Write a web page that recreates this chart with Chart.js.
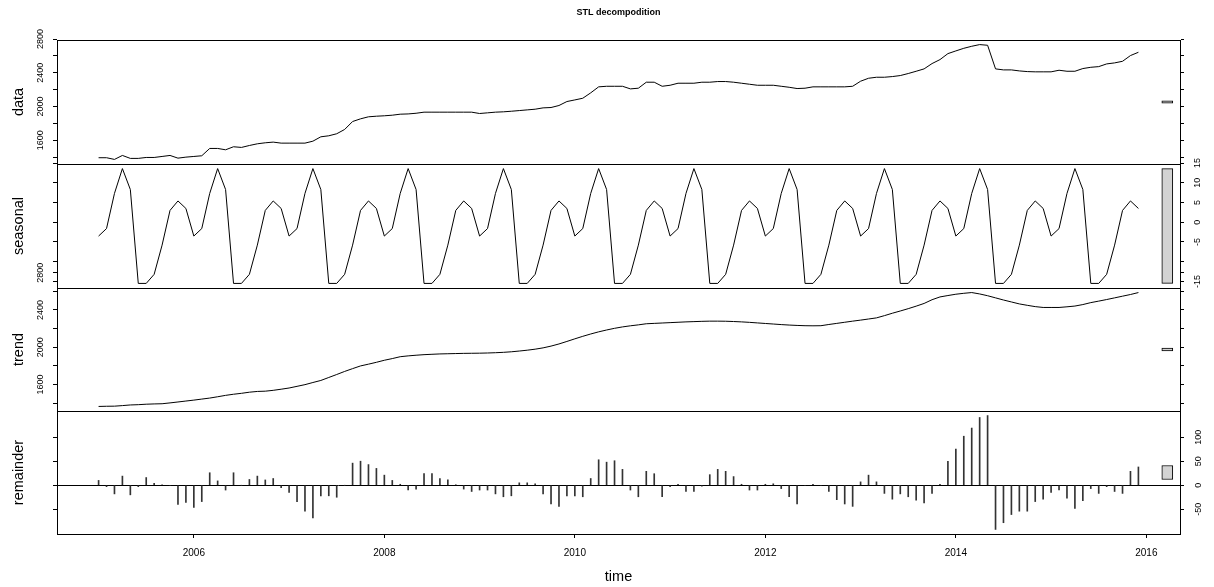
<!DOCTYPE html>
<html>
<head>
<meta charset="utf-8">
<title>STL decompodition</title>
<script src="https://cdn.jsdelivr.net/npm/chart.js@4.4.1/dist/chart.umd.min.js"></script>
<style>
  html, body { margin: 0; padding: 0; background: #fff; }
  #wrap { position: relative; width: 1214px; height: 587px; }
  #wrap canvas { position: absolute; left: 0; top: 0; }
</style>
</head>
<body>
<div id="wrap">
  <canvas id="panelData" width="1214" height="587"></canvas>
  <canvas id="panelSeasonal" width="1214" height="587"></canvas>
  <canvas id="panelTrend" width="1214" height="587"></canvas>
  <canvas id="panelRemainder" width="1214" height="587"></canvas>
</div>
<script>
// monthly series, Jan 2005 .. Dec 2015
const startYear = 2005
const freq = 12

const dataValues = [
  1393, 1393, 1373, 1420, 1385, 1385, 1396, 1396, 1408, 1420, 1388, 1400,
  1408, 1416, 1503, 1503, 1487, 1523, 1515, 1538, 1558, 1570, 1578, 1566,
  1566, 1566, 1566, 1589, 1641, 1653, 1677, 1728, 1822, 1854, 1878, 1885,
  1890, 1897, 1909, 1912, 1920, 1933, 1933, 1933, 1933, 1933, 1933, 1933,
  1917, 1925, 1933, 1937, 1944, 1952, 1960, 1968, 1984, 1988, 2012, 2059,
  2078, 2098, 2162, 2233, 2240, 2240, 2240, 2209, 2217, 2288, 2288, 2240,
  2252, 2276, 2276, 2276, 2288, 2288, 2296, 2296, 2288, 2276, 2264, 2252,
  2252, 2252, 2240, 2228, 2213, 2217, 2233, 2233, 2233, 2233, 2233, 2240,
  2300, 2335, 2347, 2347, 2355, 2367, 2391, 2418, 2446, 2509, 2556, 2627,
  2659, 2690, 2714, 2734, 2726, 2446, 2434, 2434, 2422, 2414, 2411, 2411,
  2411, 2430, 2418, 2418, 2450, 2465, 2473, 2505, 2517, 2536, 2604, 2643
]

const seasonalValues = [
  -3.5, -1.6, 7.3, 13.6, 8.3, -15.5, -15.5, -13.2, -5.8, 3.0, 5.4, 3.5,
  -3.5, -1.6, 7.3, 13.6, 8.3, -15.5, -15.5, -13.2, -5.8, 3.0, 5.4, 3.5,
  -3.5, -1.6, 7.3, 13.6, 8.3, -15.5, -15.5, -13.2, -5.8, 3.0, 5.4, 3.5,
  -3.5, -1.6, 7.3, 13.6, 8.3, -15.5, -15.5, -13.2, -5.8, 3.0, 5.4, 3.5,
  -3.5, -1.6, 7.3, 13.6, 8.3, -15.5, -15.5, -13.2, -5.8, 3.0, 5.4, 3.5,
  -3.5, -1.6, 7.3, 13.6, 8.3, -15.5, -15.5, -13.2, -5.8, 3.0, 5.4, 3.5,
  -3.5, -1.6, 7.3, 13.6, 8.3, -15.5, -15.5, -13.2, -5.8, 3.0, 5.4, 3.5,
  -3.5, -1.6, 7.3, 13.6, 8.3, -15.5, -15.5, -13.2, -5.8, 3.0, 5.4, 3.5,
  -3.5, -1.6, 7.3, 13.6, 8.3, -15.5, -15.5, -13.2, -5.8, 3.0, 5.4, 3.5,
  -3.5, -1.6, 7.3, 13.6, 8.3, -15.5, -15.5, -13.2, -5.8, 3.0, 5.4, 3.5,
  -3.5, -1.6, 7.3, 13.6, 8.3, -15.5, -15.5, -13.2, -5.8, 3.0, 5.4, 3.5
]

const trendValues = [
  1364, 1366, 1367, 1373, 1380, 1383, 1388, 1391, 1393, 1402, 1412, 1422,
  1432, 1443, 1454, 1468, 1483, 1495, 1505, 1517, 1525, 1528, 1537, 1549,
  1562, 1580, 1598, 1621, 1643, 1675, 1707, 1740, 1770, 1799, 1818, 1838,
  1860, 1878, 1898, 1907, 1914, 1920, 1924, 1928, 1930, 1932, 1934, 1935,
  1936, 1938, 1941, 1945, 1951, 1959, 1968, 1979, 1993, 2012, 2035, 2062,
  2090, 2117, 2142, 2165, 2185, 2203, 2218, 2230, 2240, 2252, 2256, 2260,
  2264, 2268, 2272, 2275, 2278, 2280, 2280, 2279, 2276, 2272, 2267, 2261,
  2255, 2249, 2243, 2238, 2234, 2231, 2230, 2231, 2244, 2256, 2268, 2280,
  2291, 2303, 2315, 2339, 2365, 2389, 2414, 2441, 2470, 2510, 2540, 2555,
  2569, 2579, 2587, 2572, 2553, 2530, 2507, 2486, 2465, 2450, 2436, 2427,
  2427, 2427, 2434, 2442, 2458, 2479, 2495, 2512, 2530, 2548, 2566, 2587
]

const remainderValues = [
  10, -3, -18, 19, -20, -3, 16, 4, 1, -1, -40, -36,
  -46, -34, 26, 9, -10, 26, 0, 12, 19, 11, 14, -5,
  -15, -34, -54, -68, -22, -22, -25, 0, 46, 50, 43, 35,
  21, 10, 2, -10, -8, 24, 24, 14, 11, 1, -8, -13,
  -10, -10, -18, -24, -22, 5, 5, 3, -18, -39, -44, -22,
  -22, -24, 14, 53, 48, 51, 33, -10, -24, 29, 24, -24,
  -3, 2, -13, -13, -2, 22, 33, 29, 18, 2, -10, -10,
  2, 3, -7, -24, -39, -1, 2, 0, -13, -30, -39, -44,
  7, 21, 7, -17, -29, -18, -24, -31, -37, -17, 2, 50,
  75, 102, 119, 141, 145, -92, -78, -61, -54, -54, -34, -29,
  -15, -10, -27, -48, -32, -7, -17, -3, -13, -17, 29, 38
]

const yearTicks = [2006, 2008, 2010, 2012, 2014, 2016]
const dataTicks = [1400, 1600, 1800, 2000, 2200, 2400, 2600, 2800]
const dataTickLabels = [1600, 2000, 2400, 2800]
const seasonalTicks = [-15, -10, -5, 0, 5, 10, 15]
const seasonalTickLabels = [-15, -5, 0, 5, 10, 15]
const trendTicks = [1400, 1600, 1800, 2000, 2200, 2400, 2600, 2800]
const trendTickLabels = [1600, 2000, 2400, 2800]
const remainderTicks = [-50, 0, 50, 100]
const remainderTickLabels = [-50, 0, 50, 100]

// page layout
const W = 1214, H = 587
const plotLeft = 57, plotRight = 1180
const titleHeight = 18.4
const rangeBarX = 2016.22
const FONT = "'Liberation Sans', Arial, sans-serif"

const times = dataValues.map((_, i) => startYear + i / freq)

// R style axis range: data range plus 4% on each side
function paddedRange(values) {
  const lo = Math.min(...values), hi = Math.max(...values)
  const pad = (hi - lo) * 0.04
  return { min: lo - pad, max: hi + pad }
}
const xRange = paddedRange(times)

// range bars all share the height of the smallest component range
const spread = v => Math.max(...v) - Math.min(...v)
const barSize = Math.min(spread(dataValues), spread(seasonalValues), spread(trendValues), spread(remainderValues))
function rangeBar(values) {
  const mid = (Math.max(...values) + Math.min(...values)) / 2
  return [{ x: rangeBarX, y: [mid - barSize / 2, mid + barSize / 2] }]
}

function yAxis(cfg, yr, side) {
  const withLabels = cfg.labelSide === side
  const axis = {
    type: 'linear',
    position: side,
    min: yr.min,
    max: yr.max,
    beginAtZero: false,
    afterBuildTicks: s => { s.ticks = cfg.ticks.map(v => ({ value: v })) },
    afterFit: s => { s.width = side === 'left' ? plotLeft : W - plotRight },
    ticks: {
      display: withLabels,
      autoSkip: false,
      minRotation: 90,
      maxRotation: 90,
      crossAlign: 'center',
      padding: side === 'left' ? 2 : 7,
      color: '#000',
      font: { family: FONT, size: 9 },
      callback: v => cfg.labels.includes(v) ? String(v) : ''
    },
    grid: { drawOnChartArea: false, tickLength: 4, tickColor: '#000', lineWidth: 1 },
    border: { display: true, color: '#000', width: 1 },
    title: { display: false }
  }
  if (side === 'left') {
    axis.title = {
      display: true,
      text: cfg.name,
      color: '#000',
      font: { family: FONT, size: 14.5 },
      padding: { top: 10, bottom: 0 }
    }
    // remainder panel gets its zero line
    if (cfg.bars) {
      axis.grid.drawOnChartArea = true
      axis.grid.color = c => c.tick && c.tick.value === 0 ? '#000' : 'rgba(0,0,0,0)'
    }
  }
  return axis
}

function buildPanel(cfg) {
  const yr = paddedRange(cfg.values)
  const points = cfg.values.map((v, i) => ({ x: times[i], y: v }))

  const series = cfg.bars
    ? { type: 'bar', data: points, backgroundColor: '#333', barThickness: 1, grouped: false }
    : { type: 'line', data: points, borderColor: '#000', borderWidth: 1, pointRadius: 0, tension: 0, fill: false }

  const bar = {
    type: 'bar',
    data: rangeBar(cfg.values),
    backgroundColor: '#d3d3d3',
    borderColor: '#000',
    borderWidth: 1,
    borderSkipped: false,
    barThickness: 11,
    grouped: false
  }

  const ctx = document.getElementById(cfg.id).getContext('2d')
  return new Chart(ctx, {
    type: 'line',
    data: { datasets: [series, bar] },
    options: {
      responsive: false,
      animation: false,
      devicePixelRatio: 1,
      events: [],
      layout: { padding: 0 },
      plugins: {
        legend: { display: false },
        tooltip: { enabled: false },
        title: {
          display: !!cfg.title,
          text: 'STL decompodition',
          fullSize: false,
          color: '#000',
          font: { family: FONT, size: 9, weight: 'bold' },
          padding: { top: 7.6, bottom: 0 }
        }
      },
      scales: {
        x: {
          type: 'linear',
          position: 'bottom',
          min: xRange.min,
          max: xRange.max,
          offset: false,
          afterBuildTicks: s => { s.ticks = yearTicks.map(v => ({ value: v })) },
          afterFit: s => { s.height = H - cfg.bottom },
          ticks: {
            display: !!cfg.last,
            autoSkip: false,
            maxRotation: 0,
            padding: 9,
            color: '#000',
            font: { family: FONT, size: 10 },
            callback: v => String(v)
          },
          grid: { offset: false, drawOnChartArea: false, drawTicks: !!cfg.last, tickLength: 4, tickColor: '#000' },
          border: { display: true, color: '#000', width: 1 },
          title: {
            display: !!cfg.last,
            text: 'time',
            color: '#000',
            font: { family: FONT, size: 14.5 },
            padding: { top: 0, bottom: 1.6 }
          }
        },
        x2: {
          type: 'linear',
          position: 'top',
          min: xRange.min,
          max: xRange.max,
          offset: false,
          afterFit: s => { s.height = cfg.top - (cfg.title ? titleHeight : 0) },
          ticks: { display: false },
          grid: { offset: false, drawOnChartArea: false, drawTicks: false },
          border: { display: true, color: '#000', width: 1 }
        },
        y: yAxis(cfg, yr, 'left'),
        y2: yAxis(cfg, yr, 'right')
      }
    }
  })
}

const panels = [
  { id: 'panelData', name: 'data', values: dataValues, ticks: dataTicks, labels: dataTickLabels, labelSide: 'left', top: 40, bottom: 164, title: true },
  { id: 'panelSeasonal', name: 'seasonal', values: seasonalValues, ticks: seasonalTicks, labels: seasonalTickLabels, labelSide: 'right', top: 164, bottom: 288 },
  { id: 'panelTrend', name: 'trend', values: trendValues, ticks: trendTicks, labels: trendTickLabels, labelSide: 'left', top: 288, bottom: 411 },
  { id: 'panelRemainder', name: 'remainder', values: remainderValues, ticks: remainderTicks, labels: remainderTickLabels, labelSide: 'right', top: 411, bottom: 534, bars: true, last: true }
]

panels.forEach(buildPanel)
</script>
</body>
</html>
